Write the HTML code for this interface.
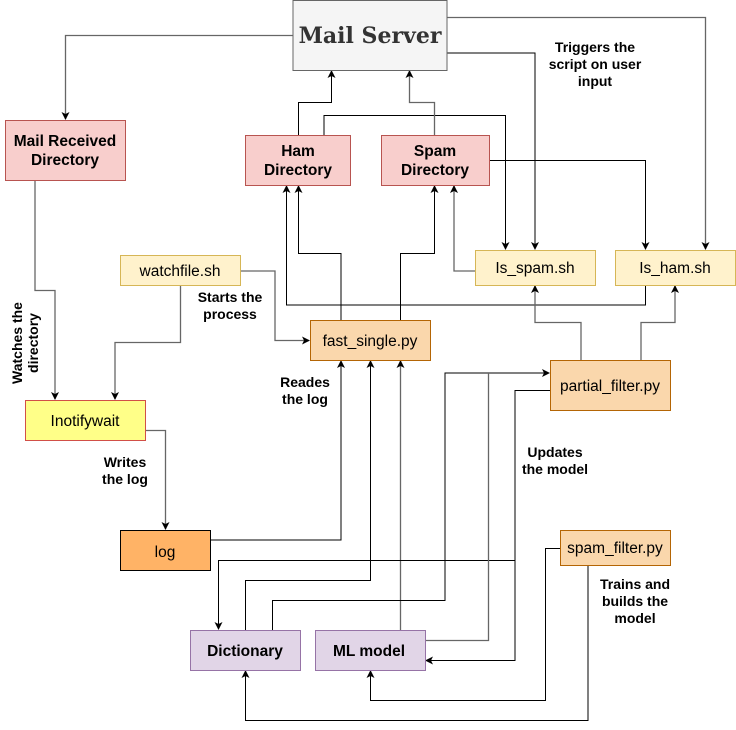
<!DOCTYPE html>
<html><head><meta charset="utf-8"><style>
html,body{margin:0;padding:0;background:#fff;width:736px;height:730px;overflow:hidden}
svg{display:block}
.b{font-family:"Liberation Sans",sans-serif;font-size:15.5px;font-weight:bold;fill:#000;text-anchor:middle}
.n{font-family:"Liberation Sans",sans-serif;font-size:15.5px;fill:#000;text-anchor:middle}
.l{font-family:"Liberation Sans",sans-serif;font-size:14px;font-weight:bold;fill:#000;text-anchor:middle}
.k{fill:none;stroke:#000;stroke-width:1}
.g{fill:none;stroke:#666;stroke-width:1.3}
</style></head><body>
<svg width="736" height="730" viewBox="0 0 736 730" xmlns="http://www.w3.org/2000/svg">
<defs>
<marker id="a" markerWidth="8" markerHeight="8" refX="7" refY="4" orient="auto" markerUnits="userSpaceOnUse">
<path d="M0,0 L8,4 L0,8 L2,4 Z" fill="#000"/></marker>
</defs>
<g marker-end="url(#a)">
<path class="g" d="M293,35.5 H65.5 V119"/>
<path class="g" d="M447,17.5 H705.5 V249"/>
<path class="k" d="M447,53 H535 V249"/>
<path class="k" d="M298.5,135 V102.5 H331.5 V71"/>
<path class="k" d="M324,135 V115.5 H505.5 V249"/>
<path class="g" d="M434.5,135 V102.5 H409.5 V71"/>
<path class="k" d="M490,160.5 H645.5 V249"/>
<path class="g" d="M475,271 H454 V186"/>
<path class="k" d="M645.5,285 V305 H286.5 V186"/>
<path class="k" d="M341,320 V253.5 H298.5 V186"/>
<path class="k" d="M400.5,320 V253.5 H434.5 V186"/>
<path class="g" d="M241,271 H275 V340.5 H309"/>
<path class="g" d="M180.5,285 V342.5 H115 V399"/>
<path class="g" d="M35,180 V290.5 H55 V399"/>
<path class="g" d="M581,360 V322.5 H535 V286"/>
<path class="g" d="M641,360 V322.5 H675 V286"/>
<path class="g" d="M146,430.5 H165.5 V529"/>
<path class="k" d="M210,540 H341 V361"/>
<path class="k" d="M245.5,630 V580.5 H370.5 V361"/>
<path class="g" d="M400.5,630 V361"/>
<path class="k" d="M272.5,630 V600.5 H445 V373 H549"/>
<path class="k" d="M550,390.5 H515 V660.5 H426"/>
<path class="k" d="M515,560.5 H218.5 V629"/>
<path class="k" d="M560,548.5 H545.5 V700.5 H370.5 V671"/>
<path class="k" d="M588,565 V720.5 H245.5 V671"/>
</g>
<path class="g" d="M426,640.5 H488.5 V373" />
<rect x="293" y="0.5" width="154" height="70" fill="#f5f5f5" stroke="#666"/>
<text x="370" y="43" font-family="'DejaVu Serif',serif" font-weight="bold" font-size="22" fill="#333" text-anchor="middle">Mail Server</text>
<rect x="5.5" y="120.5" width="120" height="60" fill="#f8cecc" stroke="#b85450"/>
<text class="b" x="65" y="146">Mail Received</text><text class="b" x="65" y="165">Directory</text>
<rect x="245.5" y="135.5" width="105" height="50" fill="#f8cecc" stroke="#b85450"/>
<text class="b" x="298" y="156">Ham</text><text class="b" x="298" y="175">Directory</text>
<rect x="381.5" y="135.5" width="108" height="50" fill="#f8cecc" stroke="#b85450"/>
<text class="b" x="435" y="156">Spam</text><text class="b" x="435" y="175">Directory</text>
<rect x="120.5" y="255.5" width="120" height="30" fill="#fff2cc" stroke="#d6b656"/>
<text class="n" x="180" y="276">watchfile.sh</text>
<rect x="475.5" y="250.5" width="120" height="35" fill="#fff2cc" stroke="#d6b656"/>
<text class="n" x="535" y="273">Is_spam.sh</text>
<rect x="615.5" y="250.5" width="120" height="35" fill="#fff2cc" stroke="#d6b656"/>
<text class="n" x="675" y="273">Is_ham.sh</text>
<rect x="310.5" y="320.5" width="120" height="40" fill="#fad7ac" stroke="#b46504"/>
<text class="n" x="370" y="346">fast_single.py</text>
<rect x="550.5" y="360.5" width="120" height="50" fill="#fad7ac" stroke="#b46504"/>
<text class="n" x="610" y="391">partial_filter.py</text>
<rect x="25.5" y="400.5" width="120" height="40" fill="#ffff88" stroke="#d14f47"/>
<text class="n" x="85" y="426">Inotifywait</text>
<rect x="120.5" y="530.5" width="90" height="40" fill="#ffb366" stroke="#000"/>
<text class="n" x="165" y="557">log</text>
<rect x="560.5" y="530.5" width="110" height="35" fill="#fad7ac" stroke="#b46504"/>
<text class="n" x="615" y="553">spam_filter.py</text>
<rect x="190.5" y="630.5" width="110" height="40" fill="#e1d5e7" stroke="#9673a6"/>
<text class="b" x="245" y="656">Dictionary</text>
<rect x="315.5" y="630.5" width="110" height="40" fill="#e1d5e7" stroke="#9673a6"/>
<text class="b" x="369" y="656">ML model</text>
<text class="l" x="595" y="52">Triggers the</text><text class="l" x="595" y="69">script on user</text><text class="l" x="595" y="86">input</text>
<text class="l" x="230" y="302">Starts the</text><text class="l" x="230" y="319">process</text>
<g transform="translate(26,343) rotate(-90)"><text class="l" x="0" y="-4">Watches the</text><text class="l" x="0" y="12">directory</text></g>
<text class="l" x="305" y="387">Reades</text><text class="l" x="305" y="404">the log</text>
<text class="l" x="125" y="467">Writes</text><text class="l" x="125" y="484">the log</text>
<text class="l" x="555" y="457">Updates</text><text class="l" x="555" y="474">the model</text>
<text class="l" x="635" y="589">Trains and</text><text class="l" x="635" y="606">builds the</text><text class="l" x="635" y="623">model</text>
</svg>
</body></html>
